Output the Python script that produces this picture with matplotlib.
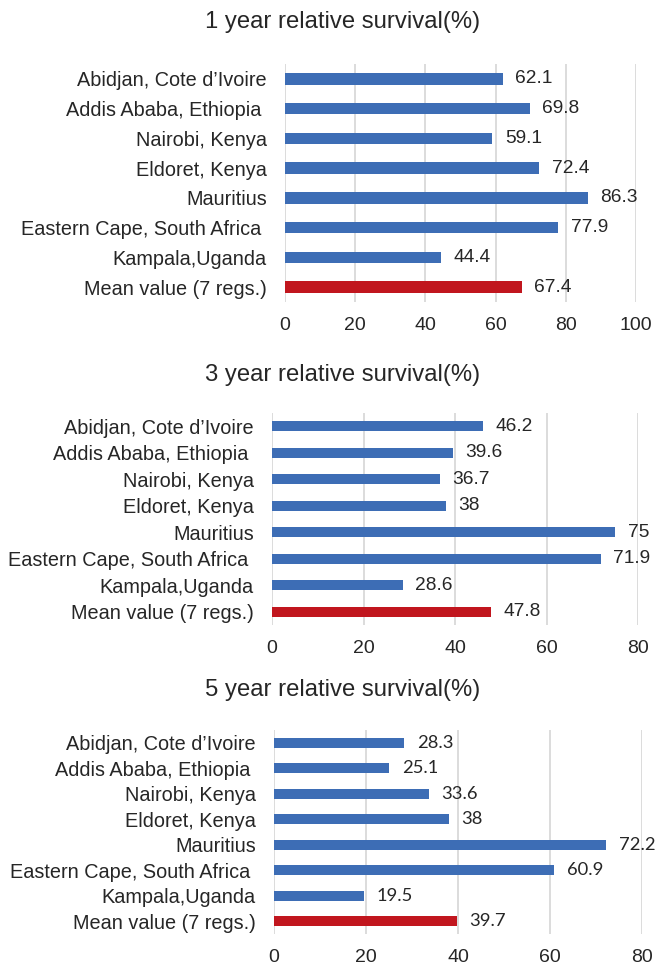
import matplotlib
matplotlib.use("Agg")
import matplotlib.pyplot as plt

categories = ["Abidjan, Cote d\u2019Ivoire", "Addis Ababa, Ethiopia ", "Nairobi, Kenya",
              "Eldoret, Kenya", "Mauritius", "Eastern Cape, South Africa ",
              "Kampala,Uganda", "Mean value (7 regs.)"]
surv_1yr = [62.1, 69.8, 59.1, 72.4, 86.3, 77.9, 44.4, 67.4]
surv_3yr = [46.2, 39.6, 36.7, 38, 75, 71.9, 28.6, 47.8]
surv_5yr = [28.3, 25.1, 33.6, 38, 72.2, 60.9, 19.5, 39.7]
val_labels_1 = ["62.1", "69.8", "59.1", "72.4", "86.3", "77.9", "44.4", "67.4"]
val_labels_3 = ["46.2", "39.6", "36.7", "38", "75", "71.9", "28.6", "47.8"]
val_labels_5 = ["28.3", "25.1", "33.6", "38", "72.2", "60.9", "19.5", "39.7"]
titles = ["1 year relative survival(%)", "3 year relative survival(%)", "5 year relative survival(%)"]
xmax = [100, 80, 80]
xticks = [[0, 20, 40, 60, 80, 100], [0, 20, 40, 60, 80], [0, 20, 40, 60, 80]]

BLUE = "#3D6DB5"
RED = "#C1161E"
FONT = ["Liberation Sans", "DejaVu Sans"]
plt.rcParams["font.family"] = FONT

fig = plt.figure(figsize=(6.56, 9.67), dpi=100)
W, H = 656, 967
boxes = [(285, 636, 64, 302), (272, 638, 413, 625), (274, 642, 730, 934)]
title_y = [22, 375, 690]
datasets = [surv_1yr, surv_3yr, surv_5yr]
labelsets = [val_labels_1, val_labels_3, val_labels_5]
val_fonts = [FONT, FONT, ["Lato", "DejaVu Sans"]]
val_sizes = [13.8, 13.8, 13.2]

for i in range(3):
    x0, x1, yt, yb = boxes[i]
    ax = fig.add_axes([x0 / W, 1 - yb / H, (x1 - x0) / W, (yb - yt) / H])
    vals = datasets[i]
    colors = [BLUE] * (len(vals) - 1) + [RED]
    y = list(range(len(vals)))
    ax.barh(y, vals, height=0.38, color=colors, zorder=3)
    for yi, v, lab in zip(y, vals, labelsets[i]):
        ax.annotate(lab, (v, yi), xytext=(9, 0), textcoords="offset points",
                    va="center", ha="left", fontsize=val_sizes[i],
                    color="#262626", family=val_fonts[i])
    ax.set_xlim(0, xmax[i])
    ax.set_ylim(len(vals) - 0.5, -0.5)
    ax.set_yticks(y)
    ax.set_yticklabels(categories, fontsize=14.3, color="#262626")
    ax.set_xticks(xticks[i])
    ax.set_xticklabels([str(t) for t in xticks[i]], fontsize=14, color="#262626")
    ax.tick_params(axis="both", length=0)
    ax.tick_params(axis="x", pad=10.5)
    ax.tick_params(axis="y", pad=13)
    ax.grid(axis="x", color="#D9D9D9", linewidth=1.3, zorder=0)
    for s in ax.spines.values():
        s.set_visible(False)
    fig.text(343 / W, 1 - title_y[i] / H, titles[i],
             ha="center", va="center", fontsize=17.2, color="#262626")

fig.savefig("out.png", dpi=100)
